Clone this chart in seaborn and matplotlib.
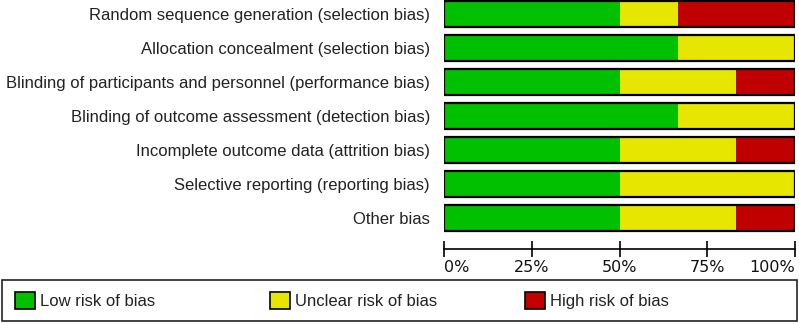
import matplotlib.pyplot as plt
from matplotlib.patches import Patch, Rectangle
import pandas as pd
import seaborn as sns

domains = [
    "Random sequence generation (selection bias)",
    "Allocation concealment (selection bias)",
    "Blinding of participants and personnel (performance bias)",
    "Blinding of outcome assessment (detection bias)",
    "Incomplete outcome data (attrition bias)",
    "Selective reporting (reporting bias)",
    "Other bias",
]
low = [50.0, 66.7, 50.0, 66.7, 50.0, 50.0, 50.0]
unclear = [16.7, 33.3, 33.3, 33.3, 33.3, 50.0, 33.3]
high = [33.3, 0.0, 16.7, 0.0, 16.7, 0.0, 16.7]
ticks = [0, 25, 50, 75, 100]
tick_labels = ["0%", "25%", "50%", "75%", "100%"]
legend_labels = ["Low risk of bias", "Unclear risk of bias", "High risk of bias"]

green, yellow, red = "#00c000", "#e6e600", "#c00000"

df = pd.DataFrame({"domain": domains, "low": low, "unclear": unclear, "high": high})
df["low_unclear"] = df["low"] + df["unclear"]
df["total"] = df["low_unclear"] + df["high"]

sns.set_style("white")
plt.rcParams["font.family"] = ["Liberation Sans", "DejaVu Sans"]

fig = plt.figure(figsize=(7.99, 3.24), dpi=100)
ax = fig.add_axes([444 / 799, 75 / 324, 351 / 799, 249 / 324])

# stacked bars drawn back to front
kw = dict(data=df, y="domain", width=0.74, ax=ax, orient="h", saturation=1)
sns.barplot(x="total", color=red, linewidth=0, **kw)
sns.barplot(x="low_unclear", color=yellow, linewidth=0, **kw)
sns.barplot(x="low", color=green, linewidth=0, **kw)
sns.barplot(x="total", fill=False, edgecolor="black", linewidth=1.6, **kw)

ax.set_xlim(0, 100)
ax.set_ylim(6.91, -0.41)
ax.set_xlabel("")
ax.set_ylabel("")
ax.set_xticks(ticks)
ax.set_xticklabels(tick_labels, fontsize=11.5, color="#111111", family="DejaVu Sans")
xt = ax.get_xticklabels()
xt[0].set_ha("left")
xt[-1].set_ha("right")
ax.tick_params(axis="x", bottom=True, direction="inout", length=12, width=1.2,
               color="black", pad=2)
ax.tick_params(axis="y", left=False, length=0, pad=10, labelsize=12, labelcolor="#222222")
for side in ["top", "right", "left"]:
    ax.spines[side].set_visible(False)
ax.spines["bottom"].set_color("black")
ax.spines["bottom"].set_linewidth(1.2)

# legend box with three evenly spaced entries
fig.patches.append(Rectangle((2 / 799, 3 / 324), 795 / 799, 41 / 324, transform=fig.transFigure,
                             fill=False, edgecolor="#222222", linewidth=1.2))
for xpos, col, lab in zip([15, 270, 525], [green, yellow, red], legend_labels):
    fig.legend(handles=[Patch(facecolor=col, edgecolor="black", linewidth=1.2, label=lab)],
               loc="center left", bbox_to_anchor=(xpos / 799, 23.5 / 324),
               fontsize=12, frameon=False, handlelength=1.2, handleheight=1.2,
               handletextpad=0.3, borderaxespad=0, borderpad=0, labelcolor="#222222")

fig.savefig("out.png", dpi=100)
